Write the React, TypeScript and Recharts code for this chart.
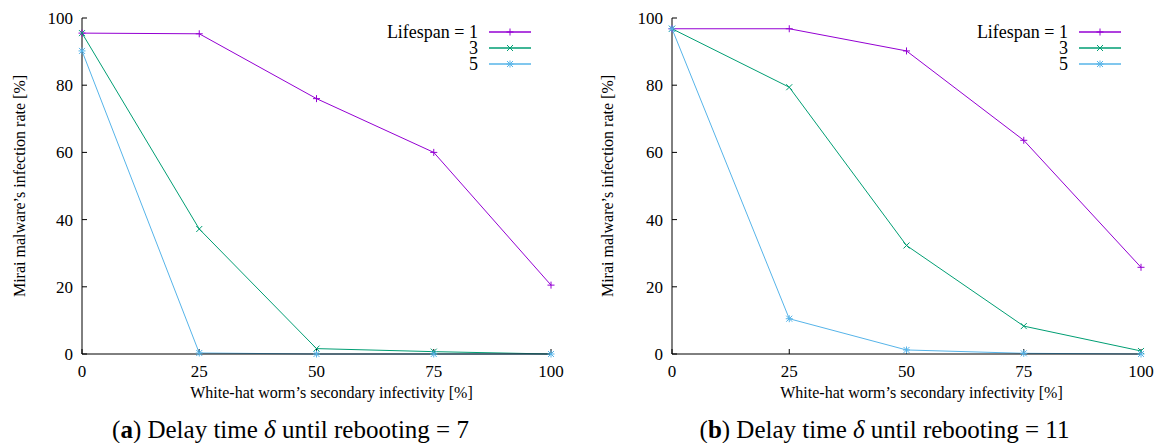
import { LineChart, Line, XAxis, YAxis, Legend } from "recharts";

// White-hat worm's secondary infectivity [%]
const infectivity = [0, 25, 50, 75, 100];

// Mirai infection rate [%], delay time 7
const delay7Life1 = [95.5, 95.3, 76, 60, 20.5];
const delay7Life3 = [95.5, 37.2, 1.6, 0.7, 0];
const delay7Life5 = [90.2, 0.3, 0, 0, 0];

// Mirai infection rate [%], delay time 11
const delay11Life1 = [96.8, 96.8, 90.2, 63.6, 25.8];
const delay11Life3 = [96.8, 79.4, 32.3, 8.3, 0.9];
const delay11Life5 = [96.8, 10.5, 1.2, 0.2, 0];

const xTicks = [0, 25, 50, 75, 100];
const yTicks = [0, 20, 40, 60, 80, 100];

const FONT = "Liberation Serif, serif";
const textStyle = { fontFamily: FONT, fill: "#000" };

type MarkerKind = "plus" | "cross" | "star";

const SERIES: { key: string; name: string; color: string; marker: MarkerKind }[] = [
  { key: "life1", name: "Lifespan = 1", color: "#9400d3", marker: "plus" },
  { key: "life3", name: "3", color: "#009e73", marker: "cross" },
  { key: "life5", name: "5", color: "#56b4e9", marker: "star" },
];

const buildRows = (l1: number[], l3: number[], l5: number[]) =>
  infectivity.map((x, i) => ({ x, life1: l1[i], life3: l3[i], life5: l5[i] }));

function Marker({ cx, cy, kind, color }: { cx: number; cy: number; kind: MarkerKind; color: string }) {
  const r = 3.5;
  const d = 3;
  const plus = `M${cx - r},${cy}H${cx + r}M${cx},${cy - r}V${cy + r}`;
  const cross = `M${cx - d},${cy - d}L${cx + d},${cy + d}M${cx - d},${cy + d}L${cx + d},${cy - d}`;
  const path = kind === "plus" ? plus : kind === "cross" ? cross : plus + cross;
  return <path d={path} stroke={color} strokeWidth={1} fill="none" />;
}

function XTick({ x, y, payload }: any) {
  return (
    <text x={x} y={y} dy="0.71em" textAnchor="middle" style={{ ...textStyle, fontSize: 17 }}>
      {payload.value}
    </text>
  );
}

function YTick({ x, y, payload }: any) {
  return (
    <text x={x} y={y} dy="0.35em" textAnchor="end" style={{ ...textStyle, fontSize: 17 }}>
      {payload.value}
    </text>
  );
}

function XTitle({ viewBox, text }: any) {
  const { x, y, width, height } = viewBox;
  return (
    <text x={x + width / 2 + 15} y={y + height - 6} textAnchor="middle" style={{ ...textStyle, fontSize: 16 }}>
      {text}
    </text>
  );
}

function YTitle({ viewBox, text, inset }: any) {
  const cx = viewBox.x + inset;
  const cy = viewBox.y + viewBox.height / 2;
  return (
    <text
      x={cx}
      y={cy}
      dy="0.35em"
      textAnchor="middle"
      transform={`rotate(-90 ${cx} ${cy})`}
      style={{ ...textStyle, fontSize: 16 }}
    >
      {text}
    </text>
  );
}

// legend keeps the plotting order (Recharts sorts the payload by name otherwise)
function LegendBox() {
  return (
    <svg width={160} height={48} style={{ display: "block", overflow: "visible" }}>
      {SERIES.map((s, i) => {
        const y = 8 + i * 16;
        return (
          <g key={s.key}>
            <text x={100} y={y} dy="0.35em" textAnchor="end" style={{ ...textStyle, fontSize: 18 }}>
              {s.name}
            </text>
            <line x1={111} x2={153} y1={y} y2={y} stroke={s.color} strokeWidth={1.3} />
            <Marker cx={132} cy={y} kind={s.marker} color={s.color} />
          </g>
        );
      })}
    </svg>
  );
}

function Panel({
  rows,
  left,
  marginRight,
  axisWidth,
  labelInset,
  legendLeft,
}: {
  rows: ReturnType<typeof buildRows>;
  left: number;
  marginRight: number;
  axisWidth: number;
  labelInset: number;
  legendLeft: number;
}) {
  return (
    <div style={{ position: "absolute", left, top: 0 }}>
      <LineChart width={581} height={443} data={rows} margin={{ top: 18, right: marginRight, bottom: 39, left: 5 }}>
        <XAxis
          dataKey="x"
          type="number"
          domain={[0, 100]}
          ticks={xTicks}
          height={50}
          tickSize={-5}
          tickMargin={16}
          tick={<XTick />}
          axisLine={{ stroke: "#000" }}
          tickLine={{ stroke: "#000" }}
          label={<XTitle text="White-hat worm’s secondary infectivity [%]" />}
        />
        <XAxis
          xAxisId="top"
          orientation="top"
          type="number"
          domain={[0, 100]}
          ticks={xTicks}
          height={0}
          tickSize={-5}
          tick={false}
          axisLine={{ stroke: "#000" }}
          tickLine={{ stroke: "#000" }}
        />
        <YAxis
          type="number"
          domain={[0, 100]}
          ticks={yTicks}
          width={axisWidth}
          tickSize={-5}
          tickMargin={14}
          tick={<YTick />}
          axisLine={{ stroke: "#000" }}
          tickLine={{ stroke: "#000" }}
          label={<YTitle text="Mirai malware’s infection rate [%]" inset={labelInset} />}
        />
        <YAxis
          yAxisId="right"
          orientation="right"
          type="number"
          domain={[0, 100]}
          ticks={yTicks}
          width={0}
          tickSize={-5}
          tick={false}
          axisLine={{ stroke: "#000" }}
          tickLine={{ stroke: "#000" }}
        />
        <Legend
          layout="vertical"
          align="center"
          verticalAlign="middle"
          content={<LegendBox />}
          wrapperStyle={{ left: legendLeft, top: 24, width: 160, height: 48 }}
        />
        {SERIES.map((s) => (
          <Line
            key={s.key}
            type="linear"
            dataKey={s.key}
            name={s.name}
            stroke={s.color}
            strokeWidth={1}
            isAnimationActive={false}
            activeDot={false}
            dot={(p: any) => <Marker key={`${s.key}-${p.index}`} cx={p.cx} cy={p.cy} kind={s.marker} color={s.color} />}
          />
        ))}
      </LineChart>
    </div>
  );
}

const captionStyle = {
  position: "absolute" as const,
  top: 417,
  width: 581,
  textAlign: "center" as const,
  fontFamily: FONT,
  fontSize: 25,
  lineHeight: "25px",
  color: "#000",
  whiteSpace: "nowrap" as const,
};

export default function App() {
  return (
    <div style={{ position: "absolute", left: 0, top: 0, width: 1162, height: 443, background: "#fff" }}>
      <Panel
        rows={buildRows(delay7Life1, delay7Life3, delay7Life5)}
        left={0}
        marginRight={30}
        axisWidth={77}
        labelInset={14}
        legendLeft={378}
      />
      <Panel
        rows={buildRows(delay11Life1, delay11Life3, delay11Life5)}
        left={581}
        marginRight={21}
        axisWidth={86}
        labelInset={21}
        legendLeft={387}
      />
      <div style={{ ...captionStyle, left: 0 }}>
        (<b>a</b>) Delay time <i>δ</i> until rebooting = 7
      </div>
      <div style={{ ...captionStyle, left: 594 }}>
        (<b>b</b>) Delay time <i>δ</i> until rebooting = 11
      </div>
    </div>
  );
}
